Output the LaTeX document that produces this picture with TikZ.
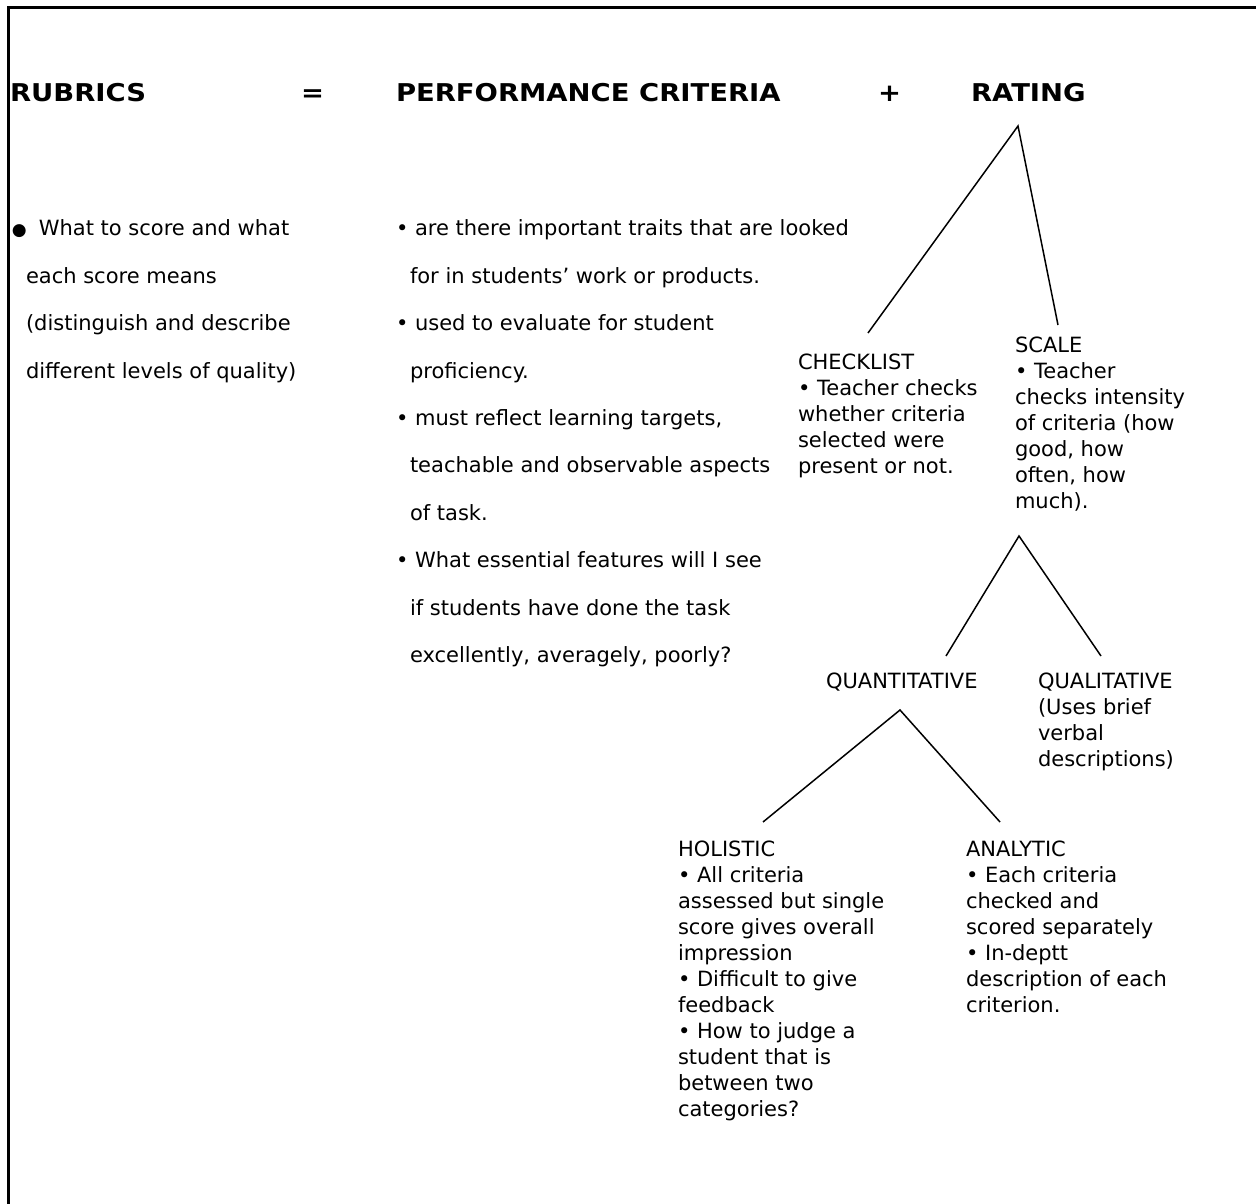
\documentclass[tikz,border=0pt]{standalone}
\usepackage{fontspec}
\setmainfont{DejaVu Sans}
\newfontfamily\titlefont{DejaVu Sans}[FakeStretch=1.12]
\begin{document}
\begin{tikzpicture}[x=1pt,y=-1pt,
  every node/.style={inner sep=0pt, outer sep=0pt},
  title/.style={anchor=base west, font=\fontsize{24.5}{30}\titlefont\bfseries},
  colbody/.style={anchor=north west, yshift=15pt, align=left,
    font=\fontsize{21}{47.4}\selectfont, execute at begin node=\rule{0pt}{24pt}},
  treebody/.style={anchor=north west, yshift=15pt, align=left,
    font=\fontsize{21}{26}\selectfont, execute at begin node=\rule{0pt}{24pt}},
  oneline/.style={anchor=base west, font=\fontsize{21}{26}\selectfont},
  branch/.style={line width=1.5pt},
  frame/.style={line width=2.6pt}]
\useasboundingbox (0,0) rectangle (1256,1204);
\draw[frame] (1260,7.5) -- (8.5,7.5) -- (8.5,1210);

% header
\node[title] (rubrics) at (10,102) {RUBRICS};
\node[title] (eq) at (301,102) {=};
\node[title] (perf) at (396,102) {PERFORMANCE CRITERIA};
\node[title] (plus) at (878,102) {+};
\node[title] (rating) at (971,102) {RATING};

% left column
\node[colbody] (left) at (12,235) {{\fontsize{17}{20}\selectfont ●}\hspace*{12pt}What to score and what\\
\hspace*{14pt}each score means\\
\hspace*{14pt}(distinguish and describe\\
\hspace*{14pt}different levels of quality)};

% middle column
\node[colbody] (mid) at (396,235) {• are there important traits that are looked\\
\hspace*{14pt}for in students’ work or products.\\
• used to evaluate for student\\
\hspace*{14pt}proficiency.\\
• must reflect learning targets,\\
\hspace*{14pt}teachable and observable aspects\\
\hspace*{14pt}of task.\\
• What essential features will I see\\
\hspace*{14pt}if students have done the task\\
\hspace*{14pt}excellently, averagely, poorly?};

% tree nodes
\node[treebody] (checklist) at (798,369) {CHECKLIST\\
• Teacher checks\\
whether criteria\\
selected were\\
present or not.};
\node[treebody] (scale) at (1015,352) {SCALE\\
• Teacher\\
checks intensity\\
of criteria (how\\
good, how\\
often, how\\
much).};
\node[oneline] (quant) at (826,688) {QUANTITATIVE};
\node[treebody] (qual) at (1038,688) {QUALITATIVE\\
(Uses brief\\
verbal\\
descriptions)};
\node[treebody] (holistic) at (678,856) {HOLISTIC\\
• All criteria\\
assessed but single\\
score gives overall\\
impression\\
• Difficult to give\\
feedback\\
• How to judge a\\
student that is\\
between two\\
categories?};
\node[treebody] (analytic) at (966,856) {ANALYTIC\\
• Each criteria\\
checked and\\
scored separately\\
• In-deptt\\
description of each\\
criterion.};

% branch points
\coordinate (rA) at (1018,126);
\coordinate (rL) at (868,333);
\coordinate (rR) at (1058,325);
\coordinate (sA) at (1019,536);
\coordinate (sL) at (946,656);
\coordinate (sR) at (1101,656);
\coordinate (qA) at (900,710);
\coordinate (qL) at (763,822);
\coordinate (qR) at (1000,822);

\draw[branch] (rL) -- (rA) -- (rR);
\draw[branch] (sL) -- (sA) -- (sR);
\draw[branch] (qL) -- (qA) -- (qR);
\end{tikzpicture}
\end{document}
